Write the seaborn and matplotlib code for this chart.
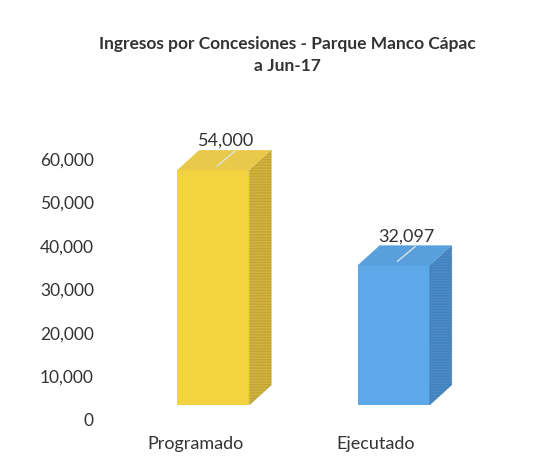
import matplotlib
matplotlib.use("Agg")
import matplotlib.pyplot as plt
import matplotlib.transforms as mtransforms
from matplotlib.patches import Polygon
from matplotlib.lines import Line2D
import seaborn as sns
import pandas as pd

categories = ["Programado", "Ejecutado"]
values = [54000, 32097]
value_labels = ["54,000", "32,097"]
yticks = [0, 10000, 20000, 30000, 40000, 50000, 60000]
ytick_labels = ["0", "10,000", "20,000", "30,000", "40,000", "50,000", "60,000"]
title = "Ingresos por Concesiones - Parque Manco Cápac\na Jun-17"

front_colors = ["#F3D33F", "#5DA8E8"]
side_colors = ["#D4B43A", "#4A8CCB"]
top_colors = ["#E9C94A", "#5A9FDD"]

sns.set_theme(style="white")
plt.rcParams["font.family"] = ["Lato", "DejaVu Sans"]

DPI = 100
fig = plt.figure(figsize=(5.59, 4.67), dpi=DPI)
W, H = 559, 467
ax = fig.add_axes([105 / W, 62 / H, 397 / W, 261 / H])

df = pd.DataFrame({"cat": categories, "val": values})
sns.barplot(data=df, x="cat", y="val", hue="cat", palette=front_colors,
            width=0.4, legend=False, ax=ax, saturation=1, edgecolor="none")
ax.set_xlim(-0.6, 1.6)
ax.set_ylim(0, 60000)

# 3D faces
dx, dy = 22 / DPI, 20 / DPI  # inches
off = fig.dpi_scale_trans.transform((dx, dy)) - fig.dpi_scale_trans.transform((0, 0))
for i, p in enumerate(ax.patches[:len(values)]):
    x0 = p.get_x()
    x1 = x0 + p.get_width()
    h = p.get_height()
    fb, ft = ax.transData.transform([(x1, 0), (x1, h)])
    side = Polygon([fb, ft, ft + off, fb + off], closed=True,
                   transform=None, facecolor=side_colors[i],
                   hatch="------", zorder=3)
    side.set_edgecolor((0, 0, 0, 0.08))
    fig.add_artist(side)
    tl, tr = ax.transData.transform([(x0, h), (x1, h)])
    top = Polygon([tl, tr, tr + off, tl + off], closed=True, transform=None,
                  facecolor=top_colors[i], edgecolor="none", zorder=3)
    fig.add_artist(top)
    # leader line on top face
    c = (tl + tr) / 2
    p_a = c + off * 0.35 + [-4, -3]
    p_b = c + off * 0.8 + [4, 3]
    fig.add_artist(Line2D([p_a[0], p_b[0]], [p_a[1], p_b[1]], transform=None,
                          color="#d8e6e0", lw=1.0, zorder=4))
    # data label
    lbl_tr = ax.transData + mtransforms.ScaledTranslation(dx / 2 + 2 / DPI, dy + 1 / DPI, fig.dpi_scale_trans)
    ax.text((x0 + x1) / 2, h, value_labels[i], transform=lbl_tr,
            ha="center", va="bottom", fontsize=13, color="#333333", clip_on=False)

ax.set_yticks(yticks)
ax.set_yticklabels(ytick_labels)
ax.tick_params(axis="y", length=0, pad=8, labelsize=12.5, labelcolor="#333333")
ax.tick_params(axis="x", length=0, pad=22, labelsize=13, labelcolor="#333333")
ax.set_xlabel("")
ax.set_ylabel("")
shift_y = mtransforms.ScaledTranslation(0, -15 / DPI, fig.dpi_scale_trans)
for lab in ax.get_yticklabels():
    lab.set_transform(lab.get_transform() + shift_y)
shift_x = mtransforms.ScaledTranslation(-18 / DPI, 0, fig.dpi_scale_trans)
for lab in ax.get_xticklabels():
    lab.set_transform(lab.get_transform() + shift_x)
for s in ax.spines.values():
    s.set_visible(False)

fig.text(287 / W, 1 - 55 / H, title, ha="center", va="center", fontsize=12.5,
         fontweight="bold", color="#333333", linespacing=1.5)

fig.savefig("out.png", dpi=DPI)
